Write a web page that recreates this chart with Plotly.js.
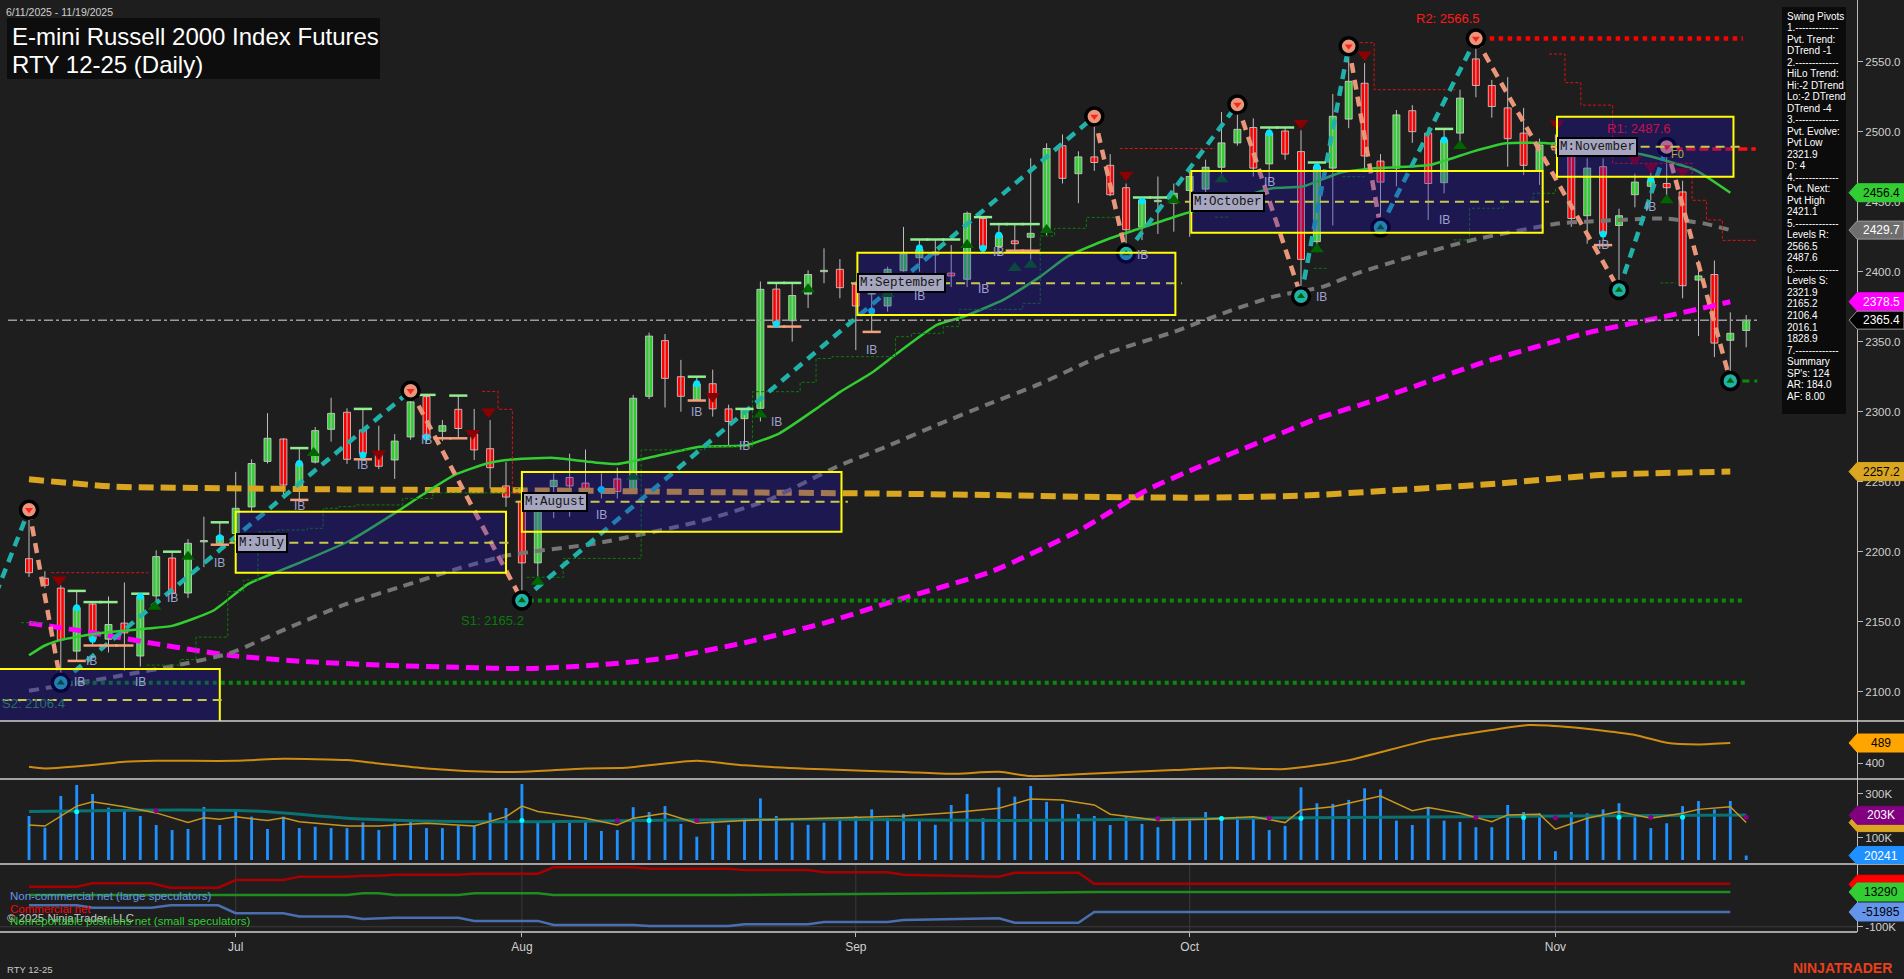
<!DOCTYPE html>
<html><head><meta charset="utf-8">
<script src="https://cdn.plot.ly/plotly-3.0.1.min.js"></script>
<style>html,body{margin:0;padding:0;background:#1e1e1e;overflow:hidden}#chart{width:1904px;height:979px}</style>
</head><body><div id="chart"></div>
<script>
// ---------------- DATA ----------------
const openP = [2195,2181,2174,2129,2162.6,2137.5,2149,2125.5,2168.4,2195.5,
 2170.5,2207,2206,2213,2232,2264.5,2280.5,2243,2264,2287.4,
 2299.6,2287,2270,2265.5,2282,2310.8,2286,2301.7,2284,2273.6,
 2247,2236,2192,2246.5,2253,2249,2244,2252,2243,2311,
 2350.8,2325,2308.4,2320,2302,2295,2302.4,2387.6,2365,2384,
 2400,2401.7,2391,2384,2375.5,2400.7,2410,2412,2399,2394.6,
 2438,2418,2422,2424.6,2428.6,2490,2470,2482,2476,2460,
 2432,2450,2449,2458,2459,2474.6,2492,2503,2477,2500.5,
 2485.8,2421.5,2474,2509,2534.6,2479,2474,2515,2499,2463.6,
 2499,2552,2533,2517,2499,2472,2492,2486,2440,2475,
 2433,2455,2461,2463,2457,2394,2398,2351,2358];
const highP = [2230,2186,2176,2172,2164,2168,2178,2170,2201,2200,
 2209,2225,2221,2257,2266,2299,2281,2274,2289,2310,
 2302.4,2302,2290,2284,2315,2312,2294,2311.5,2302,2294,
 2264,2240,2240,2256,2270,2273,2256,2260,2312,2356.5,
 2355.5,2337,2325,2330,2305,2302,2393,2392,2392,2401,
 2416.7,2409,2393,2396,2403.6,2432,2423,2423,2419,2443,
 2439,2434,2433.6,2481,2491.7,2498,2486,2510.8,2484,2463,
 2453,2468,2463,2472,2480,2514,2519.5,2509.5,2503,2503,
 2501,2478,2527,2561,2549,2484,2515.5,2519,2503,2502,
 2530,2566.5,2537,2539,2517,2495,2498,2489,2481,2481,
 2445,2470,2471,2489,2465,2408,2408,2371,2369];
const lowP = [2182,2174,2106.4,2122,2133,2128,2115,2118,2163,2166,
 2167,2189,2205,2210,2229,2263,2240,2237,2263,2278.6,
 2262.7,2266,2259,2252,2280,2278,2279,2281,2265.5,2245,
 2232,2165.2,2175,2224,2225,2230,2238,2238,2242,2309,
 2303,2300,2308,2296.5,2276,2277,2293,2361,2350,2374,
 2391.7,2381,2344,2357,2371.5,2400,2400,2395,2389,2389,
 2414,2412,2415,2408,2426,2463,2449,2472,2454,2413,
 2422.6,2427,2428.6,2425,2454,2470,2490,2468,2464,2480,
 2382.5,2414,2433,2502.5,2471,2431.5,2461,2492,2437,2456,
 2490,2524.6,2510,2475,2469,2462,2484,2432,2420,2422.6,
 2387,2446,2451,2450,2381,2354,2339,2322,2346];
const closeP = [2185,2176,2137,2160,2137.5,2148,2142,2168,2196.5,2170.5,
 2206,2208,2211,2231,2263,2281,2247.6,2263,2286.5,2298.8,
 2266,2270,2261,2279,2307,2282,2290,2288,2272.7,2260,
 2239,2192,2237,2251,2247,2244,2245,2243,2309.6,2354,
 2323.8,2311,2319.8,2302,2293,2302,2387.4,2363,2383,2398,
 2401,2388.6,2375.5,2390,2401.7,2412.7,2416,2414,2397,2441.7,
 2416.7,2426,2420,2427.4,2488,2466.7,2482,2478,2455,2430,
 2451,2451,2456,2468,2474.6,2492,2501.7,2474,2499,2484,
 2408.8,2475,2511,2536,2482.7,2464,2512,2500,2463,2494,
 2524,2533,2518,2495,2476,2490.5,2487,2438,2474,2427,
 2440,2464,2465,2460,2390,2397,2349,2356,2365.4];
const volumeK = [200,147,291,341,300,238,223,200,159,136,
 141,241,159,224,197,141,197,145,151,145,
 145,171,136,167,182,145,145,155,155,215,
 236,345,173,173,170,179,132,136,240,218,
 245,164,106,180,160,190,280,200,170,160,
 170,180,200,230,190,210,180,160,250,300,
 190,330,288,336,264,255,209,200,159,197,
 164,149,194,179,218,197,197,197,136,155,
 330,258,255,273,326,321,179,159,240,179,
 173,149,149,250,218,212,40,218,212,230,
 258,194,145,167,245,268,230,268,20.241];

const monthTickIdx = [13, 31, 52, 73, 96];
const monthTickText = ['Jul', 'Aug', 'Sep', 'Oct', 'Nov'];

// moving averages (bar position, value)
const maGreenIdx = [0,1,2,4.4,7.3,9,11.6,13.8,17,20.2,23.2,24.8,26.8,28.8,30,33,35.7,37,38.8,42.2,45.1,47.2,49.7,51,53.1,54.6,57.1,58.8,61.3,63.6,65.3,67.8,69.9,72.4,75.3,78.2,80.1,82.5,84.5,88.1,90.8,92.9,95.3,97.9,101.6,104.8,107];
const maGreenVal = [2126,2133,2137,2141.7,2145,2147,2158,2177,2192,2208,2229,2241,2255,2263,2265.5,2267,2263.6,2262.7,2266.7,2275,2276,2284.6,2303.6,2314,2328.6,2341.7,2362,2368,2380,2396.5,2410.8,2423,2431,2440.5,2450,2459.6,2460.8,2470.8,2473.8,2476.2,2485.8,2491.7,2492,2489,2483.3,2472.6,2456.4];
const maGrayIdx = [0,5.4,9.7,12.6,16.5,19.8,23.4,27,30.2,35.7,42.3,46.5,50.8,53.9,57.1,60.2,63.6,67.8,72,75.1,78.2,81.4,83.5,86.6,90.8,96.3,97.9,102.8,105.3,107];
const maGrayVal = [2100.7,2110.7,2119.8,2127.4,2146.5,2162,2175,2188,2197.6,2206,2222,2237,2260.7,2275,2290.5,2304.8,2320,2341.7,2357,2370.3,2382,2389.3,2398.8,2409.6,2422.7,2434.6,2435.7,2438,2434.5,2429.7];
const maMagentaIdx = [0,3,7.8,12.6,17.4,22.2,27,31.4,35.7,40,45,50,54.6,60.5,66.1,70.3,73.6,78,81,84.7,91.6,97.9,102.8,107];
const maMagentaVal = [2149,2144,2134.5,2126,2121.5,2119,2117.4,2116.5,2119,2124,2135,2149,2165.5,2185.7,2215.5,2244,2260.7,2281,2295,2308.4,2335.7,2356,2367.8,2378.5];
const maGoldIdx = [0,5.4,12.6,19.8,27,34.3,43,52,60.5,66.1,73.2,80,86,92.5,98.8,107];
const maGoldVal = [2251.7,2246.5,2245.3,2244.5,2244,2243.6,2242.5,2241.7,2240.5,2239.3,2238.6,2240,2244,2248.8,2254.8,2257.2];

// swing pivots
const swingIdx   = [-6, 0, 2, 24, 31, 67, 69, 76, 80, 83, 85, 91, 100, 103, 107];
const swingPrice = [2057, 2230, 2106.4, 2315, 2165.2, 2510.8, 2413, 2519.5, 2382.5, 2561, 2431.5, 2566.5, 2387, 2489, 2321.9];
const swingKind  = ['L','H','L','H','L','H','L','H','L','H','L','H','L','H','L'];

// monthly boxes
const boxName  = ['', 'M:July', 'M:August', 'M:September', 'M:October', 'M:November'];
const boxFirst = [-2.2, 13, 31, 52.1, 73.1, 96.1];
const boxLast  = [12, 30, 51.1, 72.1, 95.2, 107.2];
const boxTop   = [2116.2, 2228.6, 2257, 2413.6, 2471.9, 2510.7];
const boxBot   = [2060, 2185, 2214.3, 2369, 2427.9, 2467.9];
const boxMid   = [2094, 2206.4, 2235.7, 2391.7, 2450, 2489.3];

// levels
const levelR2 = 2566.5, levelR1 = 2487.6, levelS1 = 2165.2, levelS2 = 2106.4, levelSlast = 2321.9, lastPrice = 2365.4;

// trailing stop step lines
const greenStopIdx = [-0.5,0.9,null,7.4,9.5,10.5,12.5,13.5,14.4,15.5,17.5,18.5,19.5,20.5,23.5,25.4,30.4,31,null,31.3,33.6,38.5,42.5,45.5,48.5,49.5,50.5,54.5,55.5,57.5,58.5,62.5,63.6,64.5,66.5,68.6,null,74.6,75.5,null,80.8,81.6,null,82.6,84,null,89.6,90.6,92.7,94.6,96,null,102.6,103.6];
const greenStopVal = [2149.3,2149.3,null,2119,2123,2139,2171.5,2179.8,2214.3,2215.5,2216.7,2231,2232.2,2233.4,2238,2242,2245,2245,null,2181.7,2195.2,2272.7,2275,2314.3,2321,2338,2339.3,2353.6,2356,2360.8,2373.1,2377.4,2425.5,2431,2438.8,2438.8,null,2439,2439,null,2402.4,2402.4,null,2467.9,2467.9,null,2422.7,2445.3,2450,2456,2459.6,null,2392,2392];
const redStopIdx = [1.4,7.5,null,28.5,29.5,30.4,31,null,68.6,74.6,null,83.7,84.6,89.7,null,95.6,96.6,97.6,99.6,104.6,105.5,106.5,108.7];
const redStopVal = [2185,2185,null,2314.5,2301.7,2242,2242,null,2488,2488,null,2563.6,2530,2530,null,2555.5,2535,2519,2477.4,2451,2437,2422.4,2422.4];

// signal markers
const ibIdx = [3.2,3.9,7,9,12,17,21,25,36,42,45,47,53,56,60,61,70,78,81.3,89,99,102];
const ibVal = [2106.7,2122,2107,2166.7,2191.7,2233,2262,2280,2226,2300,2275.5,2293,2344,2383,2388,2414,2412,2464,2382,2437,2419,2446];
const dnTriIdx = [1.9,22,27.9,28.9,43,69,80,84,96.1,101,102,104];
const dnTriVal = [2180,2270,2284.6,2300,2311,2469,2506,2555,2505.6,2480.5,2475,2471.6];
const upTriIdx = [7.9,10,17.9,32,38,46,49,54,59,62,63,64,72,75,81,90,103];
const upTriVal = [2160.7,2196.4,2270.5,2178.6,2253.6,2298,2387.4,2384,2419,2402.6,2405,2429.8,2451,2466,2416,2489.8,2451];
const cyanDotIdx = [3,4,7,12,17,21,25,36,42,47,53,56,60,61,70,78,81,89,99,102];
const cyanDotVal = [2160,2137.5,2168,2210,2263,2269,2282,2244.5,2320,2362.7,2372,2417,2416.7,2426,2450.5,2499,2475,2494,2427,2466];
const hiDashIdx = [3,4,5,7,9,12,17,21,25,27,42,45,47,48,56,57,58,60,61,62,63,70,71,78,79,81,89];
const hiDashVal = [2172,2164,2164,2170,2200,2221,2274,2302,2312,2311.5,2325,2302,2392,2392,2423,2423,2423,2439,2434,2434,2434,2453,2453,2503,2503,2478,2502];
const loDashIdx = [3,4,5,6,12,17,21,26,27,42,47,48,53,62,63,99];
const loDashVal = [2122,2133,2133,2133,2205,2237,2266,2281,2281,2308,2360.8,2360.8,2357,2415,2415,2419];

// ATR-like panel
const atrIdx = [0,1,4,6,8,13,16,20,22,25,29,31,35,37.5,40,42,45,50,55,58,61,63,67,72,75.5,79,83,88,92,94.3,97,101,103,105,107];
const atrVal = [383,376,391,406,410,410,419,413,398,376,361,361,376,379,398,410,390,372,360,352,361,342,354,369,379,373,413,502,547,569,559,525,490,483,489];

// volume averages (K)
const volFastIdx = [0,1,3,4,6,8,10,11,12,13,15,16,17,20,22,25,28,30,31,32,35,37,38,40,42,45,50,55,58,61,63,65,67,68,70,71,74,77,79,80,82,84,85,87,88,90,92,93,95,96,98,100,102,104,105,107,108];
const volFastVal = [159,154,245,265,242,214,170,192,185,197,179,192,174,155,155,167,155,197,245,220,190,159,190,212,167,180,190,200,215,235,277,273,250,208,190,179,185,197,170,227,242,273,291,224,238,212,174,205,208,140,190,220,190,212,230,242,170];
const volSlowIdx = [0,14,20,28,37,42,50,61,75,91,108];
const volSlowVal = [220,223,190,174,178,182,185,179,189,197,205];
const volCyanIdx = [3,31,39,75,80,94,100,104];
const volCyanVal = [219,179,179,189,190,193,194,194];
const volPurpleIdx = [8,37,42,71,78,91,96,102,108];
const volPurpleVal = [224,179,180,189,191,193,192,193,194];

// COT (K)
const cotRedIdx = [0,3,4,7.7,8.9,11.9,13,16,17,20,21,22,23,27,28,32,33,38,39,44,45,49,50,54,55,61,62,66,67,107];
const cotRedK   = [30.6,30.6,41.6,41.6,27.4,27.4,52.5,52.5,63.4,63.4,66.5,66.5,69.8,69.8,73,73,93.9,93.9,89.5,89.5,85,85,78,78,70,63.2,76,76,40.4,40.4];
const cotBlueIdx = [0,3,4,7.7,8.9,11.9,13,16,17,20,21,22,23,27,28,32,33,38,39,44,45,49,50,54,55,61,62,66,67,107];
const cotBlueK   = [-30,-30,-38,-38,-30,-30,-56,-56,-67,-67,-75,-72,-70.6,-70.6,-81,-81,-94.4,-94.4,-97.7,-97.7,-92,-92,-85,-85,-78,-72.6,-87,-87,-52,-52];
const cotGreenIdx = [0,20,21,22,23,27,28,32,33,44,50,55,61,67,107];
const cotGreenK   = [3.5,3.5,9,9,3.5,3.5,9,9,3.5,3.5,6,8,11,13.3,13.3];

const infoLines = ['Swing Pivots','1.-------------','Pvt. Trend:','DTrend -1','2.-------------','HiLo Trend:','Hi:-2 DTrend','Lo:-2 DTrend','DTrend -4','3.-------------','Pvt. Evolve:','Pvt Low','2321.9','D: 4','4.-------------','Pvt. Next:','Pvt High','2421.1','5.-------------','Levels R:','2566.5','2487.6','6.-------------','Levels S:','2321.9','2165.2','2106.4','2016.1','1828.9','7.-------------','Summary',"SP's: 124",'AR: 184.0','AF: 8.00'];

// ---------------- LAYOUT CONSTANTS ----------------
const W = 1904, H = 979, PH = 932;
const FONT = 'Arial, "Liberation Sans", sans-serif';
const MONO = '"Liberation Mono", "DejaVu Sans Mono", monospace';
const px2x = px => (px - 29) / 15.9;
const pyP = py => 1 - py / PH;
const UP = '#32cd32', DOWN = '#ff0000';

const traces = [];
const shapes = [];
const annotations = [];
const barIdx = openP.map((_, i) => i);

// ---- candles
const wx = [], wy = [];
barIdx.forEach(i => { wx.push(i, i, null); wy.push(lowP[i], highP[i], null); });
traces.push({type:'scatter', mode:'lines', x:wx, y:wy, line:{color:'#bdbdbd', width:1}, hoverinfo:'skip'});
traces.push({type:'bar', x:barIdx, base:barIdx.map(i => Math.min(openP[i], closeP[i])),
  y:barIdx.map(i => Math.max(Math.abs(closeP[i]-openP[i]), 0.8)), width:0.44,
  marker:{color:barIdx.map(i => closeP[i] >= openP[i] ? UP : DOWN), line:{color:'#d6d6d6', width:0.8}}, hoverinfo:'skip'});

// ---- moving averages
traces.push({type:'scatter', mode:'lines', x:maGoldIdx, y:maGoldVal, line:{color:'#daa520', width:6, dash:'15px,7px', shape:'spline', smoothing:0.6}, hoverinfo:'skip'});
traces.push({type:'scatter', mode:'lines', x:maMagentaIdx, y:maMagentaVal, line:{color:'#ff00ff', width:5, dash:'13px,7px', shape:'spline', smoothing:0.6}, hoverinfo:'skip'});
traces.push({type:'scatter', mode:'lines', x:maGrayIdx, y:maGrayVal, line:{color:'#767676', width:4, dash:'10px,7px', shape:'spline', smoothing:0.6}, hoverinfo:'skip'});
traces.push({type:'scatter', mode:'lines', x:maGreenIdx, y:maGreenVal, line:{color:'#32cd32', width:2.5, shape:'spline', smoothing:0.5}, hoverinfo:'skip'});

// ---- stop lines
traces.push({type:'scatter', mode:'lines', x:greenStopIdx, y:greenStopVal, connectgaps:false, line:{color:'#0d7a0d', width:1, dash:'3px,2px', shape:'hv'}, hoverinfo:'skip'});
traces.push({type:'scatter', mode:'lines', x:redStopIdx, y:redStopVal, connectgaps:false, line:{color:'#e01010', width:1, dash:'3px,2px', shape:'hv'}, hoverinfo:'skip'});

// ---- level lines
traces.push({type:'scatter', mode:'lines', x:[swingIdx[4]+0.5, 107.9], y:[levelS1, levelS1], line:{color:'#0a8a0a', width:4, dash:'dot'}, hoverinfo:'skip'});
traces.push({type:'scatter', mode:'lines', x:[swingIdx[2]+0.5, 108], y:[levelS2, levelS2], line:{color:'#0a8a0a', width:4, dash:'dot'}, hoverinfo:'skip'});
traces.push({type:'scatter', mode:'lines', x:[swingIdx[11]+0.3, 107.8], y:[levelR2, levelR2], line:{color:'#ff0000', width:4.5, dash:'dot'}, hoverinfo:'skip'});
traces.push({type:'scatter', mode:'lines', x:[102.6, 108.6], y:[levelR1, levelR1], line:{color:'#ff1010', width:3.5, dash:'9px,4px'}, hoverinfo:'skip'});
traces.push({type:'scatter', mode:'lines', x:[107, 108.7], y:[levelSlast, levelSlast], line:{color:'#0a8a0a', width:3, dash:'7px,5px'}, hoverinfo:'skip'});
traces.push({type:'scatter', mode:'lines', x:[px2x(8), px2x(1757)], y:[lastPrice, lastPrice], line:{color:'#9a9a9a', width:1.5, dash:'dashdot'}, hoverinfo:'skip'});

// ---- zigzag
const upX = [], upY = [], dnX = [], dnY = [];
for (let k = 0; k < swingIdx.length - 1; k++) {
  const tx = swingKind[k] === 'L' ? [upX, upY] : [dnX, dnY];
  tx[0].push(swingIdx[k], swingIdx[k+1], null);
  tx[1].push(swingPrice[k], swingPrice[k+1], null);
}
traces.push({type:'scatter', mode:'lines', x:upX, y:upY, line:{color:'#20b2aa', width:4.5, dash:'10px,7px'}, hoverinfo:'skip'});
traces.push({type:'scatter', mode:'lines', x:dnX, y:dnY, line:{color:'#e9967a', width:4.5, dash:'10px,7px'}, hoverinfo:'skip'});

// ---- markers
traces.push({type:'scatter', mode:'markers', x:hiDashIdx, y:hiDashVal, marker:{symbol:'line-ew', size:13, line:{color:'#90ee90', width:2.5}}, hoverinfo:'skip'});
traces.push({type:'scatter', mode:'markers', x:loDashIdx, y:loDashVal, marker:{symbol:'line-ew', size:13, line:{color:'#f4a07a', width:2.5}}, hoverinfo:'skip'});
traces.push({type:'scatter', mode:'markers', x:dnTriIdx, y:dnTriVal, marker:{symbol:'triangle-down', size:13, color:'#8b0000'}, hoverinfo:'skip'});
traces.push({type:'scatter', mode:'markers', x:upTriIdx, y:upTriVal, marker:{symbol:'triangle-up', size:12, color:'#006400'}, hoverinfo:'skip'});
traces.push({type:'scatter', mode:'markers', x:cyanDotIdx, y:cyanDotVal, marker:{symbol:'circle', size:7, color:'#00e5ff'}, hoverinfo:'skip'});

// ---- pivot circles
const pvH = [], pvHy = [], pvL = [], pvLy = [];
swingIdx.forEach((s, k) => { if (s < 0) return; if (swingKind[k] === 'H') { pvH.push(s); pvHy.push(swingPrice[k]); } else { pvL.push(s); pvLy.push(swingPrice[k]); } });
traces.push({type:'scatter', mode:'markers', x:pvH, y:pvHy, marker:{symbol:'circle', size:17, color:'#e9967a', line:{color:'#000', width:3.5}}, hoverinfo:'skip'});
traces.push({type:'scatter', mode:'markers', x:pvL, y:pvLy, marker:{symbol:'circle', size:17, color:'#20b2aa', line:{color:'#000', width:3.5}}, hoverinfo:'skip'});
traces.push({type:'scatter', mode:'markers', x:pvH, y:pvHy, marker:{symbol:'triangle-down', size:7, color:'#ff2020'}, hoverinfo:'skip'});
traces.push({type:'scatter', mode:'markers', x:pvL, y:pvLy, marker:{symbol:'triangle-up', size:7, color:'#006400'}, hoverinfo:'skip'});

// ---- ATR panel
traces.push({type:'scatter', mode:'lines', x:atrIdx, y:atrVal, yaxis:'y2', line:{color:'#d08c12', width:2, shape:'spline', smoothing:0.6}, hoverinfo:'skip'});

// ---- volume panel
traces.push({type:'bar', x:barIdx, y:volumeK, yaxis:'y3', width:0.18, marker:{color:'#1e90ff', line:{width:0}}, hoverinfo:'skip'});
traces.push({type:'scatter', mode:'lines', x:volSlowIdx, y:volSlowVal, yaxis:'y3', line:{color:'#0a7272', width:3, shape:'spline'}, hoverinfo:'skip'});
traces.push({type:'scatter', mode:'lines', x:volFastIdx, y:volFastVal, yaxis:'y3', line:{color:'#c8961e', width:1.5}, hoverinfo:'skip'});
traces.push({type:'scatter', mode:'markers', x:volCyanIdx, y:volCyanVal, yaxis:'y3', marker:{size:5, color:'#00ffff'}, hoverinfo:'skip'});
traces.push({type:'scatter', mode:'markers', x:volPurpleIdx, y:volPurpleVal, yaxis:'y3', marker:{size:5, color:'#8b008b'}, hoverinfo:'skip'});

// ---- COT panel
traces.push({type:'scatter', mode:'lines', x:cotRedIdx, y:cotRedK, yaxis:'y4', line:{color:'#a80000', width:2.5}, hoverinfo:'skip'});
traces.push({type:'scatter', mode:'lines', x:cotGreenIdx, y:cotGreenK, yaxis:'y4', line:{color:'#1e8c1e', width:2.5}, hoverinfo:'skip'});
traces.push({type:'scatter', mode:'lines', x:cotBlueIdx, y:cotBlueK, yaxis:'y4', line:{color:'#4a6fb0', width:2.5}, hoverinfo:'skip'});

// ---------------- SHAPES ----------------
// monthly boxes
boxFirst.forEach((b, k) => {
  shapes.push({type:'rect', xref:'x', yref:'y', x0:b, x1:boxLast[k], y0:boxBot[k], y1:boxTop[k], fillcolor:'rgba(33,13,203,0.3)', line:{color:'#ffff00', width:2}, layer:'above'});
  shapes.push({type:'line', xref:'x', yref:'y', x0:b-0.4, x1:boxLast[k]+0.4, y0:boxMid[k], y1:boxMid[k], line:{color:'#c8c84a', width:2, dash:'9px,6px'}, layer:'above'});
  if (boxName[k]) annotations.push({xref:'x', yref:'y', x:b, y:boxMid[k], text:boxName[k], showarrow:false, xanchor:'left', yanchor:'middle', font:{family:MONO, size:12.5, color:'#151515'}, bgcolor:'#a6a6c0', bordercolor:'#000000', borderwidth:2, borderpad:1});
});

// panel separators
[721, 779, 864].forEach(py => shapes.push({type:'line', xref:'paper', yref:'paper', x0:0, x1:1, y0:pyP(py), y1:pyP(py), line:{color:'#cfcfcf', width:1.5}, layer:'above'}));
shapes.push({type:'line', xref:'paper', yref:'paper', x0:0, x1:1857/W, y0:0, y1:0, line:{color:'#cfcfcf', width:1.5}, layer:'above'});
// COT grid
shapes.push({type:'line', xref:'paper', yref:'y4', x0:0, x1:1857/W, y0:-100, y1:-100, line:{color:'#3a3a3a', width:1}, layer:'below'});
monthTickIdx.forEach(m => shapes.push({type:'line', xref:'x', yref:'paper', x0:m, x1:m, y0:0, y1:pyP(864), line:{color:'#3a3a3a', width:1}, layer:'below'}));
// title and info boxes
shapes.push({type:'rect', xref:'paper', yref:'paper', x0:7/W, x1:380/W, y0:pyP(79), y1:pyP(18), fillcolor:'#0d0d0d', line:{width:0}, layer:'above'});
shapes.push({type:'rect', xref:'paper', yref:'paper', x0:1782/W, x1:1846/W, y0:pyP(414), y1:pyP(7), fillcolor:'#0b0b0b', line:{width:0}, layer:'above'});

// value tags on the right axis
function tag(yref, val, fill, textColor, text, border) {
  shapes.push({type:'path', xref:'x', yref:yref, xsizemode:'pixel', ysizemode:'pixel', xanchor:px2x(1849), yanchor:val,
    path:'M0,0 L8,9 L55,9 L55,-9 L8,-9 Z', fillcolor:fill, line:{color:border || fill, width:1}, layer:'above'});
  if (text) annotations.push({xref:'x', yref:yref, x:px2x(1881), y:val, text:text, showarrow:false, xanchor:'center', yanchor:'middle', font:{family:FONT, size:12, color:textColor}});
}
tag('y', maGreenVal[maGreenVal.length-1], '#32cd32', '#000', '2456.4');
tag('y', maGrayVal[maGrayVal.length-1], '#6e6e6e', '#fff', '2429.7', '#9a9a9a');
tag('y', maMagentaVal[maMagentaVal.length-1], '#ff00ff', '#fff', '2378.5');
tag('y', lastPrice, '#000000', '#fff', '2365.4', '#9a9a9a');
tag('y', maGoldVal[maGoldVal.length-1], '#daa520', '#000', '2257.2');
tag('y2', atrVal[atrVal.length-1], '#ffa500', '#000', '489');
tag('y3', volFastVal[volFastVal.length-1], '#daa520', '#000', '');
tag('y3', 203, '#800080', '#fff', '203K');
tag('y3', volumeK[volumeK.length-1], '#1e90ff', '#fff', '20241');
tag('y4', 38.695, '#ff0000', '#fff', '');
tag('y4', cotGreenK[cotGreenK.length-1], '#32cd32', '#000', '13290');
tag('y4', -51.985, '#6495ed', '#000', '-51985');

// ---------------- TEXT ----------------
function txt(px, py, text, size, color, extra) {
  annotations.push(Object.assign({xref:'paper', yref:'paper', x:px/W, y:pyP(py), text:text, showarrow:false, xanchor:'left', yanchor:'middle', font:{family:FONT, size:size, color:color}}, extra || {}));
}
txt(4, 12, '6/11/2025 - 11/19/2025', 10.5, '#cfcfcf');
txt(10, 37, 'E-mini Russell 2000 Index Futures', 24, '#ffffff');
txt(10, 64, 'RTY 12-25 (Daily)', 24, '#ffffff');
infoLines.forEach((l, k) => txt(1785, 16 + k * 11.52, l, 10, '#ffffff'));
txt(1414, 18, 'R2: ' + levelR2.toFixed(1), 13, '#ff1a1a');
txt(1605, 128, 'R1: ' + levelR1.toFixed(1), 13, '#c8104a');
txt(459, 620, 'S1: ' + levelS1.toFixed(1), 13, '#0a7a0a');
txt(0, 703, 'S2: ' + levelS2.toFixed(1), 13, '#2a6e6a');
txt(1669, 154, 'F0', 11, '#b8b040');
txt(8, 896, 'Non-commercial net (large speculators)', 11.5, '#6495ed');
txt(8, 909, 'Commercial net', 11.5, '#ff0000');
txt(5, 918, '\u00a9 2025 NinjaTrader, LLC', 11.5, '#c8c8c8');
txt(8, 921, 'Nonreportable positions net (small speculators)', 11.5, '#32cd32');
txt(5, 969, 'RTY 12-25', 9.5, '#c8c8c8');
txt(1791, 968, '<b>NINJATRADER</b>', 14, '#e8401c');
ibIdx.forEach((x, k) => annotations.push({xref:'x', yref:'y', x:x, y:ibVal[k], text:'IB', showarrow:false, xanchor:'center', yanchor:'middle', font:{family:FONT, size:12, color:'#9ea3cf'}}));

// ---------------- AXES ----------------
const yCommon = {anchor:'free', position:1857/W, side:'right', showgrid:false, zeroline:false, showline:true, linecolor:'#bbbbbb', linewidth:1, ticks:'outside', ticklen:5, tickcolor:'#bbbbbb', tickfont:{family:FONT, size:11.5, color:'#d0d0d0'}, fixedrange:true};
const layout = {
  width:W, height:H, paper_bgcolor:'#1e1e1e', plot_bgcolor:'#1e1e1e',
  margin:{l:0, r:0, t:0, b:H-PH}, showlegend:false, barmode:'overlay',
  font:{family:FONT, color:'#d0d0d0'},
  xaxis:{domain:[0,1], anchor:'y4', range:[px2x(0), px2x(W)], showgrid:false, zeroline:false, showline:false,
    tickmode:'array', tickvals:monthTickIdx, ticktext:monthTickText, ticks:'outside', ticklen:4, tickcolor:'#bbbbbb',
    tickfont:{family:FONT, size:12, color:'#d0d0d0'}, fixedrange:true},
  yaxis:Object.assign({}, yCommon, {domain:[pyP(721),1], range:[2079.07, 2594.07], tickmode:'array',
    tickvals:[2100,2150,2200,2250,2300,2350,2400,2450,2500,2550], tickformat:'.1f'}),
  yaxis2:Object.assign({}, yCommon, {domain:[pyP(779), pyP(721)], range:[329,587], tickmode:'array', tickvals:[400]}),
  yaxis3:Object.assign({}, yCommon, {domain:[pyP(864), pyP(779)], range:[-18.2,368], tickmode:'array', tickvals:[100,300], ticktext:['100K','300K']}),
  yaxis4:Object.assign({}, yCommon, {domain:[0, pyP(864)], range:[-117.3,104.7], tickmode:'array', tickvals:[-100], ticktext:['-100K']}),
  shapes:shapes, annotations:annotations
};
Plotly.newPlot('chart', traces, layout, {staticPlot:true, displayModeBar:false});
</script>
</body></html>
